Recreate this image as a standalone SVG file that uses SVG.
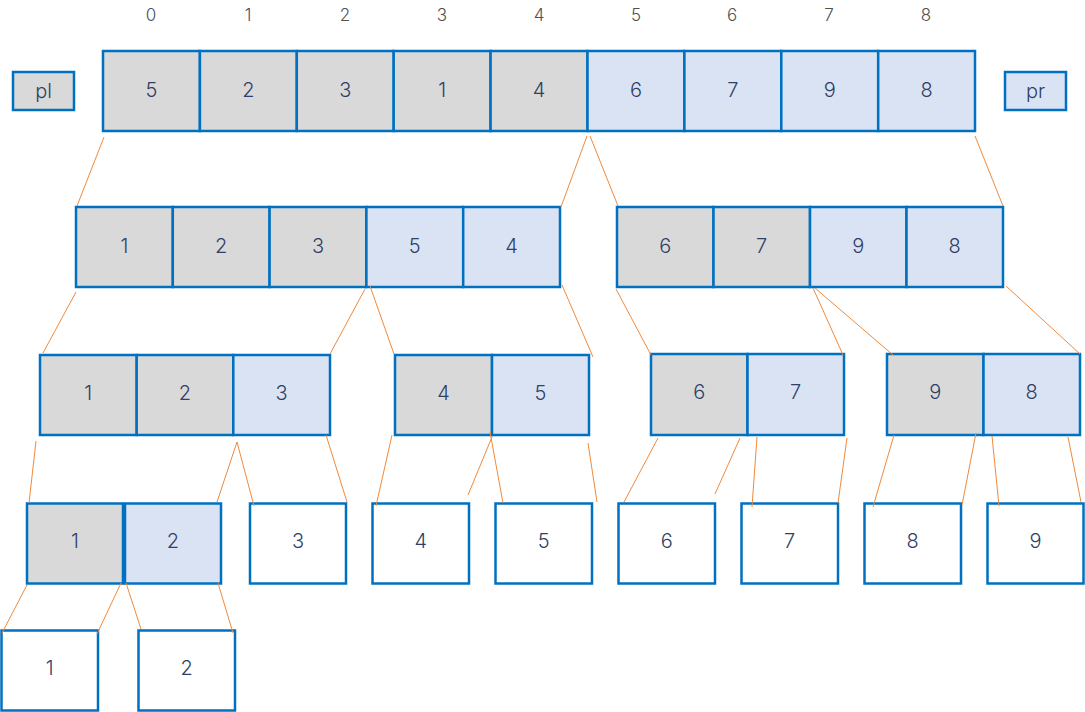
<svg xmlns="http://www.w3.org/2000/svg" width="1085" height="712" viewBox="0 0 1085 712">
<style>
.g{fill:#d9d9d9;stroke:#0070c0;stroke-width:2.5}
.b{fill:#dae3f3;stroke:#0070c0;stroke-width:2.5}
.w{fill:#ffffff;stroke:#0070c0;stroke-width:2.5}
.t{font-family:Inter,"Liberation Sans",sans-serif;font-size:20px;font-weight:300;fill:#2f3f66;text-anchor:middle;dominant-baseline:central}
.i{font-family:Inter,"Liberation Sans",sans-serif;font-size:17px;font-weight:300;fill:#505050;text-anchor:middle;dominant-baseline:central}
.c line{stroke:#f08a3c;stroke-width:1}
</style>
<rect width="1085" height="712" fill="#ffffff"/>
<g id="indices">
<text class="i" x="151" y="15">0</text><text class="i" x="248" y="15">1</text><text class="i" x="345" y="15">2</text><text class="i" x="442" y="15">3</text><text class="i" x="539" y="15">4</text><text class="i" x="636" y="15">5</text><text class="i" x="732" y="15">6</text><text class="i" x="829" y="15">7</text><text class="i" x="926" y="15">8</text>
</g>
<g id="pl"><rect class="g" x="13" y="72" width="61" height="38"/><text class="t" x="43.5" y="91">pl</text></g>
<g id="pr"><rect class="b" x="1005" y="72" width="61" height="38"/><text class="t" x="1035.5" y="91">pr</text></g>
<g id="row0">
<rect class="g" x="103" y="51" width="96.9" height="80"/><text class="t" x="151.4" y="90">5</text>
<rect class="g" x="199.9" y="51" width="96.9" height="80"/><text class="t" x="248.3" y="90">2</text>
<rect class="g" x="296.8" y="51" width="96.9" height="80"/><text class="t" x="345.2" y="90">3</text>
<rect class="g" x="393.7" y="51" width="96.9" height="80"/><text class="t" x="442.1" y="90">1</text>
<rect class="g" x="490.6" y="51" width="96.9" height="80"/><text class="t" x="539" y="90">4</text>
<rect class="b" x="587.5" y="51" width="96.9" height="80"/><text class="t" x="635.9" y="90">6</text>
<rect class="b" x="684.4" y="51" width="96.9" height="80"/><text class="t" x="732.8" y="90">7</text>
<rect class="b" x="781.3" y="51" width="96.9" height="80"/><text class="t" x="829.7" y="90">9</text>
<rect class="b" x="878.2" y="51" width="96.8" height="80"/><text class="t" x="926.6" y="90">8</text>
</g>
<g id="row1-left">
<rect class="g" x="76" y="207" width="96.8" height="80"/><text class="t" x="124.4" y="246">1</text>
<rect class="g" x="172.8" y="207" width="96.8" height="80"/><text class="t" x="221.2" y="246">2</text>
<rect class="g" x="269.6" y="207" width="96.8" height="80"/><text class="t" x="318" y="246">3</text>
<rect class="b" x="366.4" y="207" width="96.8" height="80"/><text class="t" x="414.8" y="246">5</text>
<rect class="b" x="463.2" y="207" width="96.8" height="80"/><text class="t" x="511.6" y="246">4</text>
</g>
<g id="row1-right">
<rect class="g" x="617" y="207" width="96.5" height="80"/><text class="t" x="665.2" y="246">6</text>
<rect class="g" x="713.5" y="207" width="96.5" height="80"/><text class="t" x="761.7" y="246">7</text>
<rect class="b" x="810" y="207" width="96.5" height="80"/><text class="t" x="858.2" y="246">9</text>
<rect class="b" x="906.5" y="207" width="96.5" height="80"/><text class="t" x="954.7" y="246">8</text>
</g>
<g id="row2-a">
<rect class="g" x="40" y="355" width="96.7" height="80"/><text class="t" x="88.3" y="393">1</text>
<rect class="g" x="136.7" y="355" width="96.6" height="80"/><text class="t" x="185" y="393">2</text>
<rect class="b" x="233.3" y="355" width="96.7" height="80"/><text class="t" x="281.6" y="393">3</text>
</g>
<g id="row2-b">
<rect class="g" x="395" y="355" width="97" height="80"/><text class="t" x="443.5" y="393">4</text>
<rect class="b" x="492" y="355" width="97" height="80"/><text class="t" x="540.5" y="393">5</text>
</g>
<g id="row2-c">
<rect class="g" x="651" y="354" width="96.5" height="81"/><text class="t" x="699.2" y="392">6</text>
<rect class="b" x="747.5" y="354" width="96.5" height="81"/><text class="t" x="795.7" y="392">7</text>
</g>
<g id="row2-d">
<rect class="g" x="887" y="354" width="96.5" height="81"/><text class="t" x="935.2" y="392">9</text>
<rect class="b" x="983.5" y="354" width="96.5" height="81"/><text class="t" x="1031.7" y="392">8</text>
</g>
<g id="row3-pair">
<rect class="g" x="27" y="503.5" width="96" height="80"/><text class="t" x="75" y="541">1</text>
<rect class="b" x="125" y="503.5" width="96" height="80"/><text class="t" x="173" y="541">2</text>
</g>
<g id="leaf3"><rect class="w" x="250" y="503.5" width="96" height="80"/><text class="t" x="298" y="541">3</text></g>
<g id="leaf4"><rect class="w" x="372.5" y="503.5" width="96.5" height="80"/><text class="t" x="420.7" y="541">4</text></g>
<g id="leaf5"><rect class="w" x="495.5" y="503.5" width="96.5" height="80"/><text class="t" x="543.7" y="541">5</text></g>
<g id="leaf6"><rect class="w" x="618.5" y="503.5" width="96.5" height="80"/><text class="t" x="666.7" y="541">6</text></g>
<g id="leaf7"><rect class="w" x="741.5" y="503.5" width="96.5" height="80"/><text class="t" x="789.7" y="541">7</text></g>
<g id="leaf8"><rect class="w" x="864.5" y="503.5" width="96.5" height="80"/><text class="t" x="912.7" y="541">8</text></g>
<g id="leaf9"><rect class="w" x="987.5" y="503.5" width="96" height="80"/><text class="t" x="1035.5" y="541">9</text></g>
<g id="leaf1"><rect class="w" x="1.5" y="630.5" width="96.5" height="80"/><text class="t" x="49.7" y="668">1</text></g>
<g id="leaf2"><rect class="w" x="138.5" y="630.5" width="96.5" height="80"/><text class="t" x="186.7" y="668">2</text></g>
<g id="connectors" class="c">
<line x1="104" y1="137" x2="77" y2="206"/>
<line x1="587" y1="136" x2="561" y2="207"/>
<line x1="590" y1="136" x2="618" y2="206"/>
<line x1="975" y1="136" x2="1003" y2="206"/>
<line x1="76" y1="292" x2="43" y2="353"/>
<line x1="365" y1="289" x2="330" y2="354"/>
<line x1="370" y1="286" x2="394" y2="354"/>
<line x1="562" y1="285" x2="593" y2="357"/>
<line x1="616" y1="289" x2="651" y2="355"/>
<line x1="813" y1="288" x2="843" y2="355"/>
<line x1="815" y1="288" x2="893" y2="355"/>
<line x1="1006" y1="286" x2="1080" y2="354"/>
<line x1="36" y1="441" x2="29" y2="503"/>
<line x1="237" y1="442" x2="217" y2="502"/>
<line x1="237" y1="442" x2="254" y2="506"/>
<line x1="326" y1="435" x2="347" y2="502"/>
<line x1="392" y1="435" x2="376" y2="506"/>
<line x1="492" y1="437" x2="468" y2="495"/>
<line x1="490" y1="432" x2="503" y2="503"/>
<line x1="588" y1="443" x2="597" y2="502"/>
<line x1="658" y1="438" x2="624" y2="502"/>
<line x1="740" y1="438" x2="715" y2="494"/>
<line x1="757" y1="437" x2="752" y2="507"/>
<line x1="847" y1="438" x2="838" y2="503"/>
<line x1="894" y1="435" x2="873" y2="507"/>
<line x1="976" y1="433" x2="962" y2="505"/>
<line x1="992" y1="436" x2="999" y2="506"/>
<line x1="1068" y1="437" x2="1081" y2="502"/>
<line x1="27" y1="585" x2="2" y2="633"/>
<line x1="121" y1="583" x2="97" y2="634"/>
<line x1="126" y1="583" x2="141" y2="629"/>
<line x1="218" y1="583" x2="233" y2="633"/>
</g>
</svg>
